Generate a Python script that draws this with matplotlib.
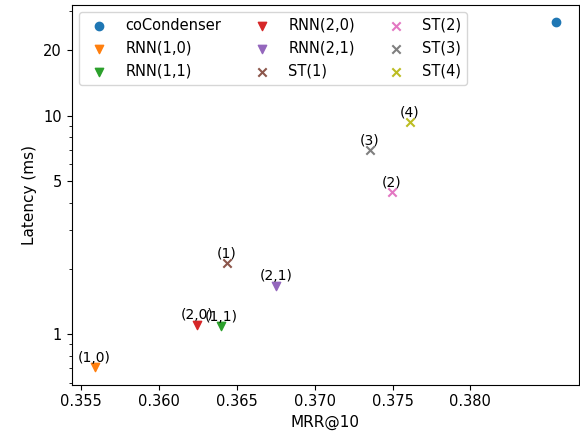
import matplotlib
matplotlib.use("Agg")
import matplotlib.pyplot as plt
from matplotlib.ticker import NullFormatter, ScalarFormatter

# dane
names = ["coCondenser", "RNN(1,0)", "RNN(1,1)", "RNN(2,0)", "RNN(2,1)",
         "ST(1)", "ST(2)", "ST(3)", "ST(4)"]
mrr = [0.3855, 0.35585, 0.3640, 0.36245, 0.36754, 0.36433, 0.37496, 0.37352, 0.37609]
latency = [26.8, 0.708, 1.088, 1.11, 1.673, 2.11, 4.47, 6.98, 9.32]
markers = ["o", "v", "v", "v", "v", "x", "x", "x", "x"]
annotations = [None, "(1,0)", "(1,1)", "(2,0)", "(2,1)", "(1)", "(2)", "(3)", "(4)"]

fig = plt.figure(figsize=(5.8, 4.32), dpi=100)
ax = fig.add_axes([71.5 / 580, 1 - 384.5 / 432, (579 - 71.5) / 580, (384.5 - 4.7) / 432])

for name, x, y, m, note in zip(names, mrr, latency, markers, annotations):
    ax.scatter(x, y, marker=m, label=name)
    if note:
        ax.annotate(note, (x, y), textcoords="offset points", xytext=(0, 4),
                    ha="center", fontsize=10)

ax.set_yscale("log")
ax.set_yticks([1, 5, 10, 20])
ax.yaxis.set_major_formatter(ScalarFormatter())
ax.yaxis.set_minor_formatter(NullFormatter())
ax.set_xticks([0.355, 0.360, 0.365, 0.370, 0.375, 0.380])
ax.tick_params(labelsize=10.5)
ax.set_xlabel("MRR@10", fontsize=11)
ax.set_ylabel("Latency (ms)", fontsize=11)
ax.legend(ncol=3, loc="upper left", fontsize=10.5, handletextpad=0.8,
          columnspacing=1.8, labelspacing=0.55)

fig.savefig("out.png")
